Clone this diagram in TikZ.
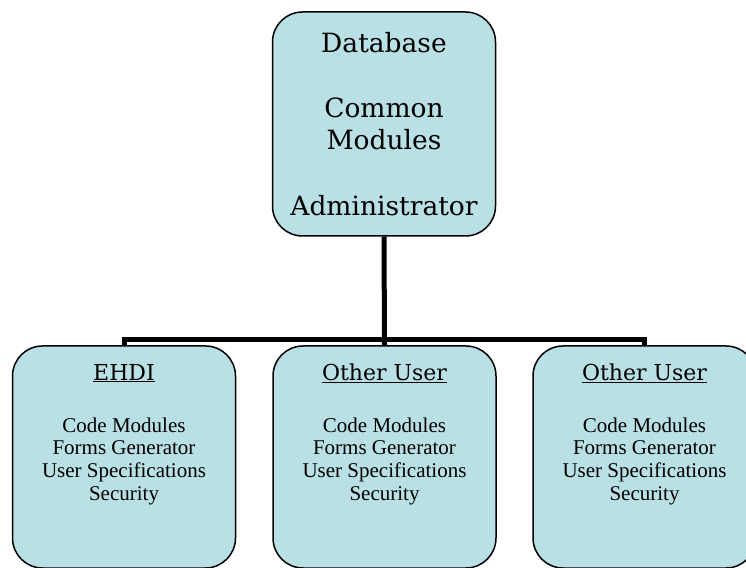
\documentclass[tikz,border=0pt]{standalone}
\usepackage{fontspec}
\setmainfont{Liberation Serif}
\newfontfamily\headfont{DejaVu Serif}
\definecolor{boxfill}{RGB}{185,224,228}
\tikzset{
  orgbox/.style={draw=black, line width=1.5pt, fill=boxfill, rounded corners=30pt,
                 minimum width=223pt, minimum height=222pt, inner sep=0pt},
  conn/.style={draw=black, line width=5pt, line join=miter},
  toptext/.style={align=center, font=\headfont\fontsize{26.5}{32}\selectfont},
  headtext/.style={font=\headfont\fontsize{22}{26}\selectfont, inner sep=0pt},
  bodytext/.style={align=center, font=\fontsize{21}{22.8}\selectfont, inner sep=0pt}
}
\begin{document}
\begin{tikzpicture}[x=1pt,y=1pt]
\useasboundingbox (0,0) rectangle (746,567);

% boxes
\node[orgbox, minimum height=224pt] (top) at (384,443) {};
\node[orgbox] (ehdi)  at (124,110) {};
\node[orgbox] (user1) at (384.5,110) {};
\node[orgbox] (user2) at (644.5,110) {};

\coordinate (bus) at (0,227);

% connectors
\draw[conn] (top.south) -- (user1.north);
\draw[conn] (ehdi.north) |- (user2.north |- bus) -- (user2.north);

% texts
\node[toptext] (toptxt) at (top.center)
  {Database\\[33pt]Common\\Modules\\[34pt]Administrator};
\foreach \b/\h in {ehdi/EHDI, user1/Other User, user2/Other User}{
  \node[headtext] (\b-head) at ([yshift=-28pt]\b.north) {\underline{\h}};
  \node[bodytext, anchor=north] (\b-body) at ([yshift=-72pt]\b.north)
    {Code Modules\\Forms Generator\\User Specifications\\Security};
}
\end{tikzpicture}
\end{document}
